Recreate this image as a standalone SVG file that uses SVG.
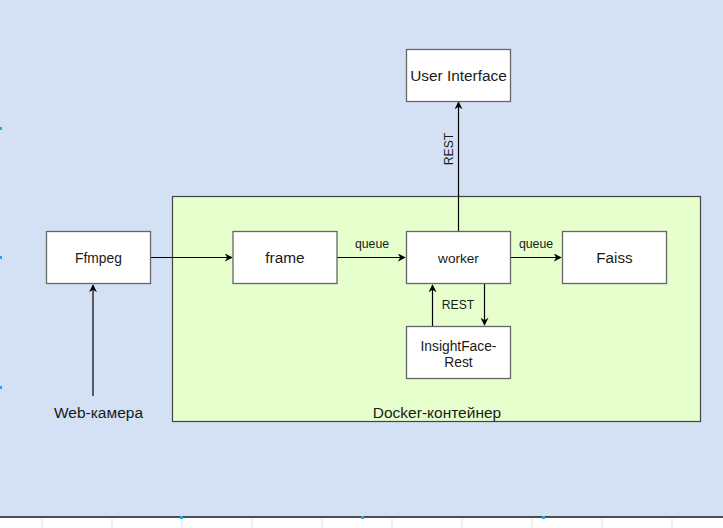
<svg xmlns="http://www.w3.org/2000/svg" width="723" height="528" viewBox="0 0 723 528">
<style>
.bx{fill:#fff;stroke:#666;stroke-width:1.3}
.t{font-family:"Liberation Sans",Arial,sans-serif;fill:#1a1a1a;text-anchor:middle}
.e{fill:none;stroke:#000;stroke-width:1.2}
.h{fill:#29a3e0}
</style>
<defs>
<marker id="a" viewBox="0 0 10 10" refX="9" refY="5" markerWidth="8" markerHeight="8" orient="auto" markerUnits="userSpaceOnUse">
<path d="M0,0 L10,5 L0,10 L3,5 Z" fill="#000"/>
</marker>
</defs>
<rect x="0" y="0" width="723" height="517" fill="#d4e1f5"/>
<rect x="0" y="517" width="723" height="11" fill="#fff"/>
<line x1="0" y1="517" x2="723" y2="517" stroke="#1a1a1a" stroke-width="1.3"/>
<g stroke="#ccc" stroke-width="0.6">
<line x1="42" y1="518" x2="42" y2="528"/><line x1="112" y1="518" x2="112" y2="528"/><line x1="182" y1="518" x2="182" y2="528"/><line x1="252" y1="518" x2="252" y2="528"/><line x1="322" y1="518" x2="322" y2="528"/><line x1="392" y1="518" x2="392" y2="528"/><line x1="462" y1="518" x2="462" y2="528"/><line x1="532" y1="518" x2="532" y2="528"/><line x1="602" y1="518" x2="602" y2="528"/><line x1="672" y1="518" x2="672" y2="528"/>
</g>
<rect class="h" x="0" y="127" width="2" height="3"/>
<rect class="h" x="0" y="256" width="2" height="3"/>
<rect class="h" x="0" y="386" width="2" height="3"/>
<rect class="h" x="180" y="516" width="3" height="3"/>
<rect class="h" x="361" y="516" width="3" height="3"/>
<rect class="h" x="542" y="516" width="3" height="3"/>

<g id="docker">
<rect x="172.5" y="196.5" width="528" height="225" fill="#e6ffcc" stroke="#444" stroke-width="1.2"/>
<text class="t" x="437" y="418" font-size="15.5">Docker-контейнер</text>
</g>

<g id="connectors">
<path class="e" d="M151,257.5 H232" marker-end="url(#a)"/>
<path class="e" d="M93,396 V285" marker-end="url(#a)"/>
<path class="e" d="M337,257.5 H405" marker-end="url(#a)"/>
<path class="e" d="M510,257.5 H561" marker-end="url(#a)"/>
<path class="e" d="M458.5,231 V102" marker-end="url(#a)"/>
<path class="e" d="M432.5,326 V285" marker-end="url(#a)"/>
<path class="e" d="M484.5,283 V325" marker-end="url(#a)"/>
<text class="t" x="372" y="248" font-size="12.3">queue</text>
<text class="t" x="536" y="248" font-size="12.3">queue</text>
<text class="t" x="458" y="309" font-size="12.2">REST</text>
<text class="t" font-size="12.2" transform="translate(453,149) rotate(-90)">REST</text>
</g>

<g id="ffmpeg"><rect class="bx" x="46.5" y="231.5" width="104" height="52"/><text class="t" x="98.5" y="262.5" font-size="13.8">Ffmpeg</text></g>
<g id="frame"><rect class="bx" x="233" y="231.5" width="104" height="52"/><text class="t" x="285" y="263" font-size="15.4">frame</text></g>
<g id="worker"><rect class="bx" x="406.5" y="231.5" width="104" height="52"/><text class="t" x="458.5" y="262.5" font-size="13.6">worker</text></g>
<g id="faiss"><rect class="bx" x="562.5" y="231.5" width="104" height="52"/><text class="t" x="614.5" y="263" font-size="15.2">Faiss</text></g>
<g id="ui"><rect class="bx" x="406.5" y="49.5" width="104" height="52"/><text class="t" x="458.5" y="80.5" font-size="15.4">User Interface</text></g>
<g id="insight"><rect class="bx" x="406.5" y="326.5" width="104" height="52"/><text class="t" x="458.5" y="350.5" font-size="13.8">InsightFace-</text><text class="t" x="458.5" y="366.5" font-size="13.8">Rest</text></g>
<g id="webcam"><text class="t" x="98.5" y="418" font-size="15.5">Web-камера</text></g>
</svg>
